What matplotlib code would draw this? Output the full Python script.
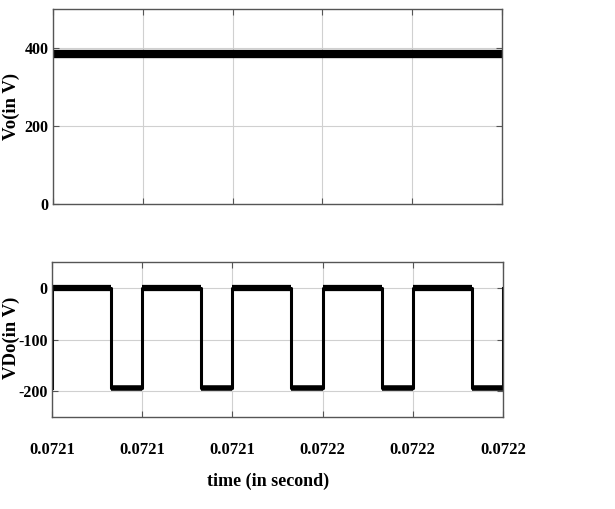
import numpy as np
import matplotlib.pyplot as plt

# output voltage (nearly constant)
vo_t = [0.07210, 0.07220]
vo = [385, 385]

# diode voltage square wave: edges in seconds
t_start = 0.07210
t_end = 0.07220
fall_times = [0.0721131, 0.0721331, 0.0721531, 0.0721733, 0.0721932]
rise_times = [0.0721000, 0.0721200, 0.0721400, 0.0721600, 0.0721800, 0.0722000]
v_high = 0
v_low = -193

x_ticks = [0.07210, 0.07212, 0.07214, 0.07216, 0.07218, 0.07220]
x_ticklabels = ["0.0721", "0.0721", "0.0721", "0.0722", "0.0722", "0.0722"]

# build step waveform from the edges
edges = sorted([(t, 'r') for t in rise_times] + [(t, 'f') for t in fall_times])
vd_t, vd = [t_start], [v_low]
for t, kind in edges:
    if kind == 'r':
        vd_t += [t, t]
        vd += [v_low, v_high]
    else:
        vd_t += [t, t]
        vd += [v_high, v_low]

plt.rcParams['font.family'] = 'Liberation Serif'
plt.rcParams['font.weight'] = 'bold'
plt.rcParams['axes.unicode_minus'] = False

fig = plt.figure(figsize=(6.15, 5.09), dpi=100)
ax1 = fig.add_axes([0.0862, 0.599, 0.730, 0.383])
ax2 = fig.add_axes([0.0846, 0.1807, 0.733, 0.3046])

ax1.plot(vo_t, vo, color='black', lw=6, solid_capstyle='butt')
ax1.set_ylim(0, 500)
ax1.set_yticks([0, 200, 400])
ax1.set_xticks(x_ticks)
ax1.set_xticklabels([])

ax2.plot(vd_t, vd, color='black', lw=2.2)
# thicker bands on the flat parts (ripple)
for i in range(len(fall_times)):
    ax2.hlines(v_high, rise_times[i], fall_times[i], color='black', lw=4.5)
    ax2.hlines(v_low, fall_times[i], rise_times[i + 1], color='black', lw=4.0)
ax2.set_ylim(-250, 50)
ax2.set_yticks([0, -100, -200])
ax2.set_xticks(x_ticks)
ax2.set_xticklabels(x_ticklabels)

for ax in (ax1, ax2):
    ax.set_xlim(t_start, t_end)
    ax.grid(True, color='#d0d0d0', lw=0.8)
    ax.tick_params(direction='in', top=True, right=True, length=4,
                   color='#555555', labelsize=11.5, pad=3)
    for s in ax.spines.values():
        s.set_color('#555555')
        s.set_linewidth(1.0)
ax2.tick_params(axis='x', labelsize=12, pad=18)

fig.text(0.018, 0.79, "Vo(in V)", rotation=90, ha='center', va='center',
         fontsize=13.5, fontweight='bold')
fig.text(0.018, 0.336, "VDo(in V)", rotation=90, ha='center', va='center',
         fontsize=13.5, fontweight='bold')
fig.text(0.436, 0.055, "time (in second)", ha='center', va='center',
         fontsize=13, fontweight='bold')

fig.savefig("out.png", dpi=100)
